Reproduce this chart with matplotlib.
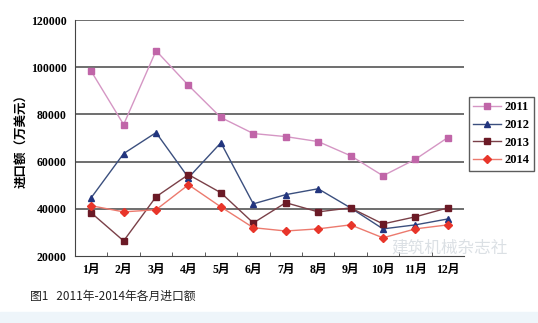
import numpy as np
import matplotlib
matplotlib.use('Agg')
import matplotlib.pyplot as plt

months = ['1月', '2月', '3月', '4月', '5月', '6月', '7月', '8月', '9月', '10月', '11月', '12月']
y2011 = [98300, 75700, 107000, 92300, 78700, 71900, 70600, 68500, 62500, 54000, 61000, 70200]
y2012 = [44700, 63400, 72300, 53200, 68000, 42100, 46000, 48500, 40400, 31500, 33200, 35700]
y2013 = [38300, 26400, 45100, 54500, 46800, 34000, 42600, 38700, 40400, 33600, 36600, 40400]
y2014 = [41300, 38700, 39600, 50200, 40800, 32000, 30600, 31500, 33200, 27700, 31500, 33200]
yticks = [20000, 40000, 60000, 80000, 100000, 120000]

fam = ['Liberation Serif', 'Noto Sans CJK SC', 'DejaVu Sans']
plt.rcParams['font.family'] = fam

fig = plt.figure(figsize=(5.38, 3.23), dpi=100)
# light blue band at the bottom of the page
fig.patches.append(plt.Rectangle((0, 0), 1, 11/323, transform=fig.transFigure,
                                 color='#eef5fa', zorder=0))
ax = fig.add_axes([0.1394, 0.2074, 0.7231, 0.7306])

x = np.arange(len(months))
ax.plot(x, y2011, color='#d596c4', lw=1.0, marker='s', ms=4.5, mfc='#c065a8', mec='#c065a8', label='2011')
ax.plot(x, y2012, color='#3b4f7e', lw=1.0, marker='^', ms=5, mfc='#22357e', mec='#22357e', label='2012')
ax.plot(x, y2013, color='#7a4048', lw=1.0, marker='s', ms=4.5, mfc='#6b1a26', mec='#6b1a26', label='2013')
ax.plot(x, y2014, color='#ec7a6e', lw=1.0, marker='D', ms=4.5, mfc='#e8352a', mec='#e8352a', label='2014')

ax.set_xlim(-0.5, 11.5)
ax.set_ylim(20000, 120000)
ax.set_yticks(yticks)
ax.set_yticklabels([str(v) for v in yticks], fontsize=8.5, fontweight='bold')
ax.set_xticks(x)
ax.set_xticklabels(months, fontsize=8.5, fontweight='bold')
ax.set_xticks(np.arange(0.5, 11, 1), minor=True)
ax.tick_params(axis='x', which='major', length=0, pad=6)
ax.tick_params(axis='x', which='minor', length=3, direction='in', color='#444444')
ax.tick_params(axis='y', length=0, pad=6)
for v in yticks[1:]:
    ax.axhline(v, color='#555555', lw=1.2, zorder=0)
for s in ['top', 'right']:
    ax.spines[s].set_visible(False)
ax.spines['left'].set_color('#444444')
ax.spines['bottom'].set_color('#444444')

ax.set_ylabel('进口额（万美元）', fontsize=9, fontweight='bold',
              family=['Noto Sans CJK SC', 'DejaVu Sans'], labelpad=2)

leg = ax.legend(loc='upper left', bbox_to_anchor=(0.997, 0.70), fontsize=9,
                frameon=True, fancybox=False, edgecolor='#333333',
                handlelength=2.2, borderpad=0.35, labelspacing=0.45, handletextpad=0.3,
                prop={'family': 'Liberation Serif', 'weight': 'bold', 'size': 9})

fig.text(0.056, 0.072, '图1   2011年-2014年各月进口额', fontsize=8.5, fontweight='medium',
         family=['Noto Sans CJK SC', 'DejaVu Sans'], color='#222222')
# watermark
fig.text(0.728, 0.218, '建筑机械杂志社', fontsize=12, color='#d8dde2',
         family=['Noto Sans CJK SC', 'DejaVu Sans'], alpha=0.9)

fig.savefig('out.png', dpi=100)
